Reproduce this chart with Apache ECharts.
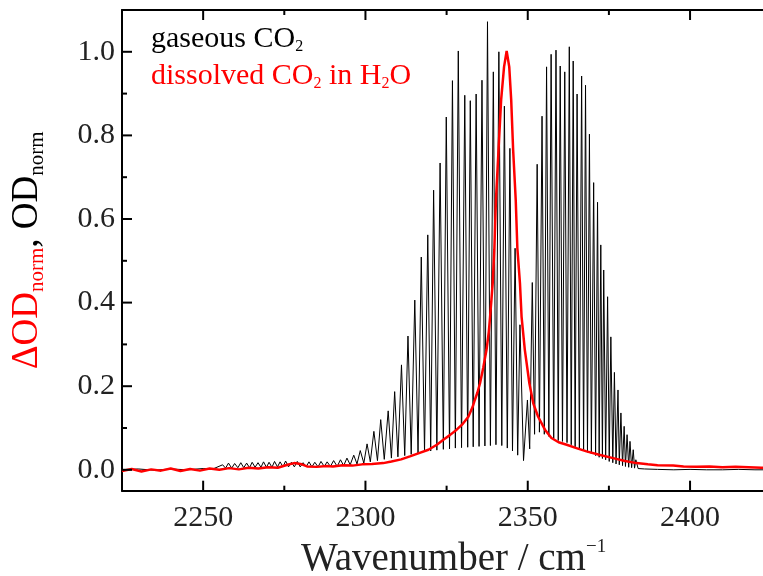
<!DOCTYPE html>
<html><head><meta charset="utf-8">
<script src="https://cdn.jsdelivr.net/npm/echarts@6/dist/echarts.min.js"></script>
<style>html,body{margin:0;padding:0;background:#fff}#c{width:763px;height:576px}</style>
</head><body><div id="c"></div>
<script>
// Axis ranges and tick values
const xRange = [2225, 2425];
const yRange = [-0.05, 1.1];
const xMajorTicks = [2250, 2300, 2350, 2400];
const xMinorTicks = [2275, 2325, 2375];
const yMajorTicks = [0, 0.2, 0.4, 0.6, 0.8, 1.0];
const yMinorTicks = [0.1, 0.3, 0.5, 0.7, 0.9];

// Gaseous CO2 spectrum (black): wavenumber / normalized OD (peaks and valleys)
const gasX = [2225,2230,2235,2240,2245,2250,2253,
 2256.0,2256.9,2257.8,2258.8,2259.7,2260.7,2261.6,2262.5,2263.4,2264.3,2265.1,2266.0,2266.9,2267.8,
 2268.6,2269.5,2270.3,2271.2,2272.0,2272.9,2273.7,2274.6,2275.4,2276.3,2277.2,2278.1,2279.0,2279.9,
 2280.8,2281.7,2282.6,2283.5,2284.4,2285.4,2286.3,2287.3,2288.2,2289.2,2290.2,2291.3,2292.3,2293.3,
 2294.3,2295.3,2296.4,2297.4,2298.4,2299.5,2300.5,2301.5,2302.6,2303.7,2304.7,2305.8,2307.0,2308.0,
 2309.0,2310.0,2311.1,2312.1,2313.1,2314.1,2315.2,2316.2,2317.2,2318.2,2319.2,2320.1,2321.0,2322.0,
 2323.0,2324.0,2324.9,2325.9,2326.8,2327.7,2328.6,2329.6,2330.6,2331.5,2332.3,2333.2,2334.1,2335.0,
 2335.9,2336.8,2337.6,2338.5,2339.4,2340.2,2341.1,2342.0,2342.8,2343.7,2344.5,2345.3,2346.1,2346.9,
 2347.6,2348.7,2349.9,2350.6,2351.4,2352.1,2352.9,2353.6,2354.4,2355.1,2355.8,2356.5,2357.2,2358.0,
 2358.7,2359.4,2360.0,2360.7,2361.4,2362.1,2362.8,2363.4,2364.0,2364.6,2365.2,2365.9,2366.6,2367.2,
 2367.8,2368.4,2369.0,2369.6,2370.3,2370.9,2371.5,2372.0,2372.5,2373.0,2373.4,2374.0,2374.6,2375.1,
 2375.6,2376.2,2376.7,2377.2,2377.8,2378.2,2378.7,2379.2,2379.7,2380.1,2380.6,2381.1,2381.5,2382.0,
 2382.5,2382.9,2383.3,2384.0,2386,2390,2395,2400,2405,2410,2415,2420,2425];
const gasY = [0.0,0.002,-0.001,0.002,0.0,0.003,0.002,
 0.012,0.004,0.016,0.004,0.015,0.005,0.017,0.005,0.016,0.005,0.018,0.006,0.017,0.006,
 0.019,0.006,0.018,0.006,0.020,0.007,0.019,0.007,0.021,0.007,0.018,0.007,0.020,0.007,
 0.017,0.007,0.019,0.007,0.018,0.007,0.020,0.008,0.019,0.008,0.022,0.008,0.024,0.010,
 0.028,0.012,0.035,0.014,0.046,0.016,0.062,0.019,0.092,0.022,0.120,0.025,0.141,0.028,
 0.187,0.031,0.251,0.034,0.320,0.037,0.406,0.040,0.509,0.043,0.562,0.045,0.669,0.047,
 0.734,0.049,0.844,0.050,0.931,0.052,1.002,0.053,0.896,0.054,0.883,0.055,0.899,0.056,
 0.932,0.057,1.072,0.058,0.952,0.060,1.000,0.058,0.870,0.052,0.769,0.045,0.530,0.035,
 0.347,0.022,0.167,0.050,0.448,0.085,0.731,0.090,0.846,0.085,0.964,0.080,0.994,0.075,
 1.004,0.070,0.966,0.068,0.952,0.065,1.012,0.060,0.978,0.055,0.899,0.050,0.942,0.045,
 0.920,0.042,0.803,0.038,0.687,0.034,0.640,0.030,0.538,0.027,0.478,0.024,0.414,0.020,
 0.318,0.017,0.233,0.014,0.191,0.012,0.136,0.010,0.104,0.008,0.084,0.006,0.068,0.005,
 0.048,0.004,0.024,0.003,0.002,0.001,0.0,0.001,0.0,0.0,0.001,0.0,0.0];

// Dissolved CO2 in H2O (red): wavenumber / normalized delta OD
const liqX = [2225,2228,2231,2234,2237,2240,2243,2246,2249,2252,2255,2258,2261,2264,2267,2270,2273,2276,2278,2280,
 2282,2285,2288,2290,2293,2296,2299,2302,2305.5,2308,2311,2313.7,2316.5,2319.4,2322,2324,2326,2328.1,2330,2331.7,
 2333,2333.7,2334.5,2335.3,2336.3,2337.3,2338,2338.4,2339.2,2339.7,2340.2,2341.0,2341.8,2342.7,2343.5,2344.3,2344.9,
 2345.5,2346.3,2346.8,2347.6,2348.1,2349.1,2350.5,2351.7,2353.2,2355.3,2357.3,2359.5,2362,2365,2368.1,2372,2376.3,
 2380,2383.5,2387,2390,2394.8,2398,2402,2406,2410,2414,2418,2422,2425];
const liqY = [-0.003,0.002,-0.004,0.001,-0.002,0.003,-0.003,0.002,-0.002,0.003,0.0,0.004,0.001,0.005,0.003,0.006,0.005,0.012,0.016,0.014,
 0.008,0.007,0.009,0.008,0.011,0.010,0.013,0.014,0.016,0.020,0.025,0.032,0.040,0.048,0.060,0.072,0.083,0.096,0.110,0.127,
 0.150,0.167,0.185,0.207,0.245,0.287,0.330,0.366,0.446,0.526,0.645,0.765,0.885,0.964,1.002,0.964,0.885,
 0.765,0.645,0.530,0.446,0.366,0.287,0.207,0.159,0.127,0.096,0.076,0.066,0.060,0.052,0.044,0.036,0.028,
 0.021,0.016,0.013,0.011,0.010,0.008,0.007,0.008,0.006,0.007,0.006,0.005,0.005];

const FONT = '"Liberation Serif", "DejaVu Serif", serif';
const gasData = gasX.map((x, i) => [x, gasY[i]]);
const liqData = liqX.map((x, i) => [x, liqY[i]]);

// Inward tick marks on the frame, placed through the axes' own coordinate mapping
function xTickSeries(ticks, len) {
  return {
    type: 'custom', silent: true, z: 5, clip: false,
    data: ticks.map(v => [v, yRange[0]]),
    renderItem: function (params, api) {
      const v = api.value(0);
      const b = api.coord([v, yRange[0]]);
      const t = api.coord([v, yRange[1]]);
      const st = {stroke: '#000', lineWidth: 2};
      return {type: 'group', children: [
        {type: 'line', shape: {x1: b[0], y1: b[1], x2: b[0], y2: b[1] - len}, style: st},
        {type: 'line', shape: {x1: t[0], y1: t[1], x2: t[0], y2: t[1] + len}, style: st}
      ]};
    }
  };
}
function yTickSeries(ticks, len) {
  return {
    type: 'custom', silent: true, z: 5, clip: false,
    data: ticks.map(v => [xRange[0], v]),
    renderItem: function (params, api) {
      const v = api.value(1);
      const l = api.coord([xRange[0], v]);
      const st = {stroke: '#000', lineWidth: 2};
      return {type: 'line', shape: {x1: l[0], y1: l[1], x2: l[0] + len, y2: l[1]}, style: st};
    }
  };
}

const black = {color: '#000', width: 2};
const chart = echarts.init(document.getElementById('c'), null, {renderer: 'canvas'});
chart.setOption({
  animation: false,
  backgroundColor: '#fff',
  grid: {left: 122, right: -8.2, top: 10, bottom: 85.3, containLabel: false, outerBoundsMode: 'none'},
  legend: {
    orient: 'vertical', left: 141, top: 19, icon: 'none', itemWidth: 0, itemHeight: 0, itemGap: 6,
    selectedMode: false,
    data: ['gaseous CO2', 'dissolved CO2 in H2O'],
    formatter: function (name) {
      return name === 'gaseous CO2' ? '{k|gaseous CO}{ks|2}' : '{r|dissolved CO}{rs|2}{r| in H}{rs|2}{r|O}';
    },
    textStyle: {
      fontFamily: FONT,
      rich: {
        k: {fontFamily: FONT, fontSize: 30, color: '#000', lineHeight: 32},
        ks: {fontFamily: FONT, fontSize: 16, color: '#000', lineHeight: 14, verticalAlign: 'bottom'},
        r: {fontFamily: FONT, fontSize: 30, color: '#f00', lineHeight: 32},
        rs: {fontFamily: FONT, fontSize: 16, color: '#f00', lineHeight: 14, verticalAlign: 'bottom'}
      }
    }
  },
  xAxis: [
    {type: 'value', position: 'bottom', min: xRange[0], max: xRange[1],
     splitLine: {show: false}, axisTick: {show: false},
     axisLine: {show: true, onZero: false, lineStyle: black},
     axisLabel: {show: true, customValues: xMajorTicks, margin: 12, fontFamily: FONT, fontSize: 30, color: '#222',
       formatter: v => String(v)},
     name: '{n|Wavenumber / cm}{p|\u22121}',
     nameLocation: 'middle', nameGap: 33,
     nameTextStyle: {padding: [0, 0, 0, 14], rich: {
       n: {fontFamily: FONT, fontSize: 39, color: '#222', lineHeight: 44},
       p: {fontFamily: FONT, fontSize: 19, color: '#222', lineHeight: 19, verticalAlign: 'top'}
     }}},
    {type: 'value', position: 'top', min: xRange[0], max: xRange[1],
     splitLine: {show: false}, axisTick: {show: false}, axisLabel: {show: false},
     axisLine: {show: true, onZero: false, lineStyle: black}}
  ],
  yAxis: [
    {type: 'value', position: 'left', min: yRange[0], max: yRange[1],
     splitLine: {show: false}, axisTick: {show: false},
     axisLine: {show: true, onZero: false, lineStyle: black},
     axisLabel: {show: true, customValues: yMajorTicks, margin: 7, fontFamily: FONT, fontSize: 30, color: '#222',
       formatter: v => v.toFixed(1)},
     name: '{r|\u0394OD}{rs|norm}{k|, OD}{ks|norm}',
     nameLocation: 'middle', nameRotate: 90, nameGap: 74,
     nameTextStyle: {rich: {
       r: {fontFamily: FONT, fontSize: 37, color: '#f00', lineHeight: 42},
       rs: {fontFamily: FONT, fontSize: 21, color: '#f00', lineHeight: 21, verticalAlign: 'bottom'},
       k: {fontFamily: FONT, fontSize: 37, color: '#000', lineHeight: 42},
       ks: {fontFamily: FONT, fontSize: 21, color: '#000', lineHeight: 21, verticalAlign: 'bottom'}
     }}}
  ],
  series: [
    {
      name: 'gaseous CO2', type: 'line', xAxisIndex: 0, yAxisIndex: 0,
      data: gasData, showSymbol: false, symbol: 'none',
      lineStyle: {color: '#000', width: 1}, itemStyle: {color: '#000'}, z: 2
    },
    {
      name: 'dissolved CO2 in H2O', type: 'line', xAxisIndex: 0, yAxisIndex: 0,
      data: liqData, showSymbol: false, symbol: 'none',
      lineStyle: {color: '#f00', width: 2.5}, itemStyle: {color: '#f00'}, z: 3
    },
    xTickSeries(xMajorTicks, 10),
    xTickSeries(xMinorTicks, 5),
    yTickSeries(yMajorTicks, 10),
    yTickSeries(yMinorTicks, 5)
  ]
});
</script>
</body></html>
